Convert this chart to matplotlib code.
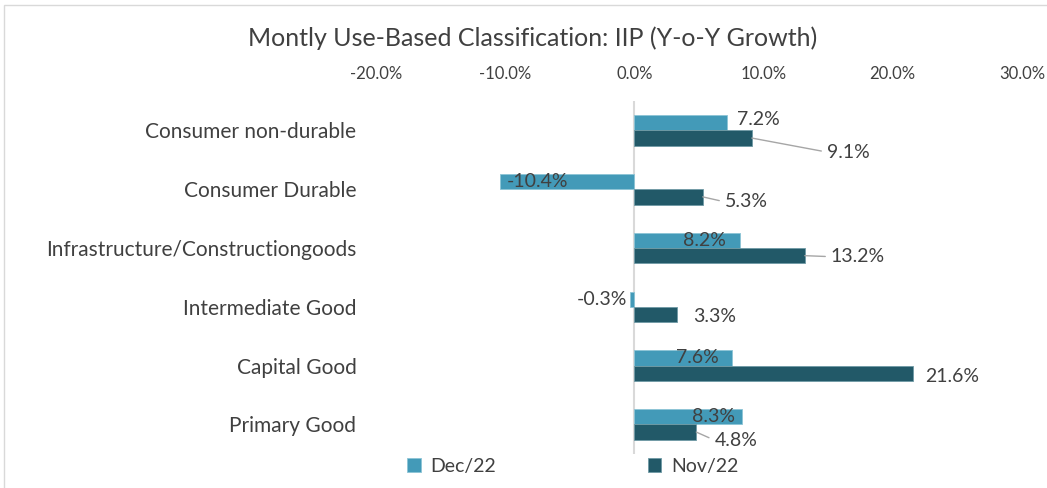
import numpy as np
import matplotlib.pyplot as plt
from matplotlib.patches import Rectangle
from matplotlib.ticker import FuncFormatter

plt.rcParams['font.family'] = ['Lato', 'DejaVu Sans']

categories = ['Consumer non-durable', 'Consumer Durable', 'Infrastructure/Constructiongoods',
              'Intermediate Good', 'Capital Good', 'Primary Good']
dec22 = [7.2, -10.4, 8.2, -0.3, 7.6, 8.3]
nov22 = [9.1, 5.3, 13.2, 3.3, 21.6, 4.8]
xticks = [-20, -10, 0, 10, 20, 30]

# label offsets (pixels) relative to bar end, and whether a leader line is drawn
dec_off = [(31, 3), (38, 0), (-36, 0), (-28, 0), (-35, 0), (-28, 0)]
nov_off = [(75, -14), (22, -5), (26, -1), (16, -2), (12, -3), (18, -8)]
nov_leader = [True, True, True, False, False, True]

c_dec = '#439AB8'
c_nov = '#225968'
txt = '#404040'

fig = plt.figure(figsize=(10.47, 4.88), dpi=100)
ax = fig.add_axes([0.359, 0.07, 0.617, 0.723])

y = np.arange(len(categories))
h = 0.26
ax.barh(y - h / 2, dec22, height=h, color=c_dec, edgecolor='#8cc4d6', linewidth=0.6, label='Dec/22')
ax.barh(y + h / 2, nov22, height=h, color=c_nov, edgecolor='#6f9aa5', linewidth=0.6, label='Nov/22')

ax.set_xlim(-20, 30)
ax.set_ylim(len(categories) - 0.5, -0.5)
ax.set_yticks(y)
ax.set_yticklabels(categories, fontsize=15, color=txt)
ax.set_xticks(xticks)
ax.xaxis.set_major_formatter(FuncFormatter(lambda v, p: f'{v:.1f}%'))
ax.xaxis.tick_top()
ax.tick_params(axis='x', length=0, labelsize=12, labelcolor=txt, pad=14)
ax.tick_params(axis='y', length=0, pad=14)
for s in ax.spines.values():
    s.set_visible(False)
ax.axvline(0, color='#d9d9d9', lw=1.5, zorder=0)

for i in range(len(categories)):
    ax.annotate(f'{dec22[i]:.1f}%', xy=(dec22[i], y[i] - h / 2), xytext=dec_off[i],
                textcoords='offset pixels', ha='center', va='center', fontsize=14, color=txt)
    ap = dict(arrowstyle='-', color='#a6a6a6', lw=1, shrinkA=2, shrinkB=0,
              relpos=(0, 0.5)) if nov_leader[i] else None
    ax.annotate(f'{nov22[i]:.1f}%', xy=(nov22[i], y[i] + h / 2), xytext=nov_off[i],
                textcoords='offset pixels', ha='left', va='center', fontsize=14, color=txt,
                arrowprops=ap)

fig.suptitle('Montly Use-Based Classification: IIP (Y-o-Y Growth)', x=0.509, y=0.945,
             fontsize=18, color=txt)

leg = fig.legend(loc='center', bbox_to_anchor=(0.547, 0.045), ncol=2, frameon=False,
                 fontsize=14, handlelength=0.7, handleheight=0.7, columnspacing=7.8,
                 handletextpad=0.5)
for t in leg.get_texts():
    t.set_color(txt)

fig.patches.append(Rectangle((0.004, -0.01), 1.0, 1.0, transform=fig.transFigure,
                             fill=False, edgecolor='#d9d9d9', lw=1))

fig.savefig('out.png', dpi=100)
